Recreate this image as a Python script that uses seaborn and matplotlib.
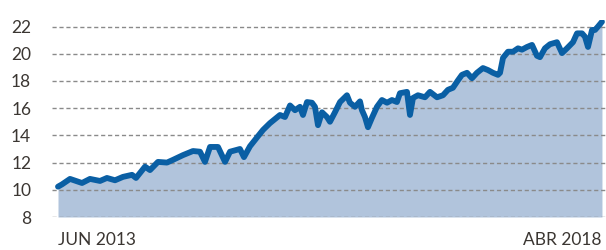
import matplotlib.pyplot as plt
import pandas as pd
import seaborn as sns

# months since JUN 2013
months = [0.0, 0.43, 1.28, 2.56, 3.41, 4.48, 5.22, 6.08, 6.93, 7.89, 8.32, 9.28, 9.81,
          10.66, 11.62, 12.26, 13.33, 14.39, 15.14, 15.67, 16.21, 17.06, 17.81, 18.34,
          19.40, 19.83, 20.47, 21.22, 21.86, 22.60, 23.67, 24.20, 24.74, 25.27, 25.80,
          26.12, 26.55, 27.08, 27.40, 27.72, 28.15, 28.68, 29.00, 29.53, 30.07, 30.81,
          31.13, 31.67, 32.20, 32.41, 32.73, 33.05, 33.48, 34.01, 34.54, 35.08, 35.61,
          36.14, 36.46, 37.21, 37.53, 37.85, 38.38, 39.13, 39.66, 40.41, 41.05, 41.58,
          42.11, 42.65, 43.07, 43.61, 44.14, 44.67, 45.31, 45.85, 46.38, 46.91, 47.13,
          47.45, 47.98, 48.52, 49.05, 49.47, 50.01, 50.54, 51.07, 51.39, 51.92, 52.46,
          53.20, 53.74, 54.27, 54.91, 55.34, 55.87, 56.19, 56.51, 56.94, 57.26, 57.58,
          58.0]
values = [10.23, 10.4, 10.8, 10.5, 10.8, 10.65, 10.87, 10.7, 10.95, 11.1, 10.87, 11.7, 11.45,
          12.05, 12.0, 12.2, 12.55, 12.85, 12.8, 12.05, 13.15, 13.15, 12.05, 12.8,
          13.0, 12.4, 13.2, 13.85, 14.4, 14.9, 15.5, 15.35, 16.2, 15.85, 16.1,
          15.5, 16.45, 16.4, 16.1, 14.75, 15.7, 15.35, 15.0, 15.7, 16.45, 16.95,
          16.4, 16.1, 16.5, 15.85, 15.35, 14.6, 15.3, 16.1, 16.6, 16.4, 16.6,
          16.45, 17.1, 17.2, 15.5, 16.75, 16.95, 16.8, 17.2, 16.8, 16.95, 17.35,
          17.5, 18.05, 18.45, 18.6, 18.2, 18.6, 18.95, 18.8, 18.6, 18.45, 18.6,
          19.7, 20.15, 20.15, 20.4, 20.3, 20.5, 20.65, 19.85, 19.75, 20.4, 20.7,
          20.85, 20.05, 20.4, 20.85, 21.5, 21.5, 21.25, 20.5, 21.75, 21.75, 22.0,
          22.35]
y_ticks = [8, 10, 12, 14, 16, 18, 20, 22]
x_ticks = [0, 58]
x_labels = ['JUN 2013', 'ABR 2018']

df = pd.DataFrame({'month': months, 'value': values})

sns.set_style('white')
plt.rcParams['font.family'] = ['Lato', 'DejaVu Sans']

text_color = '#3b3632'
line_color = '#0a5fa4'
fill_color = '#b1c4dc'

fig = plt.figure(figsize=(6.06, 2.5), dpi=100)
ax = fig.add_axes([0.0858, 0.132, 0.9142, 0.789])

ax.fill_between(df['month'], df['value'], 8, color=fill_color, lw=0, zorder=1)
for t in y_ticks:
    ax.axhline(t, color='#8a8a8a', lw=1.0, ls=(0, (3, 2)), zorder=2)
sns.lineplot(data=df, x='month', y='value', ax=ax, color=line_color, lw=4.2,
             solid_capstyle='round', solid_joinstyle='round', zorder=3)

ax.set_xlim(-0.64, 58.43)
ax.set_ylim(8, 22.5)
ax.set_yticks(y_ticks)
ax.set_yticklabels([str(t) for t in y_ticks])
ax.set_xticks(x_ticks)
ax.set_xticklabels(x_labels)
ax.get_xticklabels()[0].set_ha('left')
ax.get_xticklabels()[1].set_ha('right')
ax.tick_params(axis='y', length=0, pad=15, labelsize=12.5, labelcolor=text_color)
ax.tick_params(axis='x', length=0, pad=11, labelsize=12.5, labelcolor=text_color)
ax.set_xlabel('')
ax.set_ylabel('')
for s in ax.spines.values():
    s.set_visible(False)

fig.savefig('out.png', dpi=100)
